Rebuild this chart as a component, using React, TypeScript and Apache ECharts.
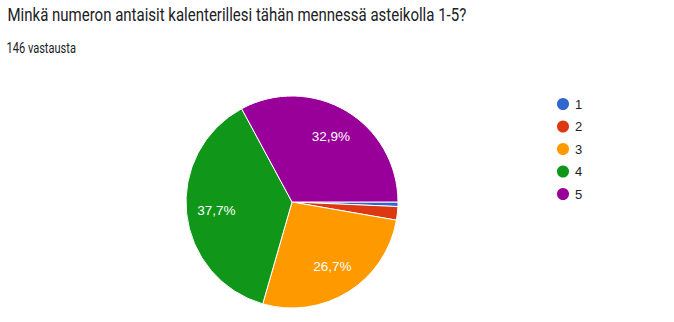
import React, { useEffect, useRef } from "react";
import * as echarts from "echarts";

const titleText = "Minkä numeron antaisit kalenterillesi tähän mennessä asteikolla 1-5?";
const subtitleText = "146 vastausta";
const categories = ["1", "2", "3", "4", "5"];
const counts = [1, 3, 39, 55, 48];
const colors = ["#3366cc", "#dc3912", "#ff9900", "#109618", "#990099"];

const total = counts.reduce((a, b) => a + b, 0);
const fmtPct = (v: number) => ((v / total) * 100).toFixed(1).replace(".", ",") + "%";

export default function App() {
  const ref = useRef<HTMLDivElement>(null);
  useEffect(() => {
    document.body.style.margin = "0";
    if (!ref.current) return;
    const chart = echarts.init(ref.current, undefined, { renderer: "svg" });
    const data = categories.map((c, i) => ({
      name: c,
      value: counts[i],
      itemStyle: { color: colors[i] },
    }));
    chart.setOption({
      animation: false,
      textStyle: { fontFamily: "Roboto" },
      graphic: [
        {
          type: "text",
          x: 7.5,
          y: 14.5,
          scaleX: 0.79,
          style: {
            text: titleText,
            fontSize: 19,
            fontFamily: "Roboto",
            fill: "#202124",
            verticalAlign: "middle",
          },
        },
        {
          type: "text",
          x: 6.5,
          y: 48.5,
          scaleX: 0.79,
          style: {
            text: subtitleText,
            fontSize: 14,
            fontFamily: "Roboto",
            fill: "#202124",
            verticalAlign: "middle",
          },
        },
      ],
      legend: {
        orient: "vertical",
        left: 550,
        top: 91,
        icon: "circle",
        itemWidth: 14,
        itemHeight: 14,
        itemGap: 6.5,
        data: categories,
        textStyle: { fontSize: 13, color: "#222222", fontFamily: "Liberation Sans" },
      },
      series: [
        {
          type: "pie",
          center: [292, 202],
          radius: [0, 106],
          startAngle: 0,
          clockwise: true,
          data,
          label: { show: false },
          labelLine: { show: false },
          itemStyle: { borderColor: "#ffffff", borderWidth: 1 },
          emphasis: { disabled: true },
        },
        {
          type: "pie",
          center: [292, 202],
          radius: [40, 106],
          startAngle: 0,
          clockwise: true,
          silent: true,
          data: categories.map((c, i) => ({
            name: c,
            value: counts[i],
            itemStyle: { color: "rgba(0,0,0,0)" },
            label: { show: counts[i] / total > 0.05 },
          })),
          label: {
            position: "inside",
            formatter: (p: any) => fmtPct(p.value),
            color: "#ffffff",
            fontSize: 13.5,
            fontFamily: "Liberation Sans",
          },
          labelLine: { show: false },
          emphasis: { disabled: true },
        },
      ],
    });
    return () => chart.dispose();
  }, []);
  return <div ref={ref} style={{ width: 674, height: 322 }} />;
}
